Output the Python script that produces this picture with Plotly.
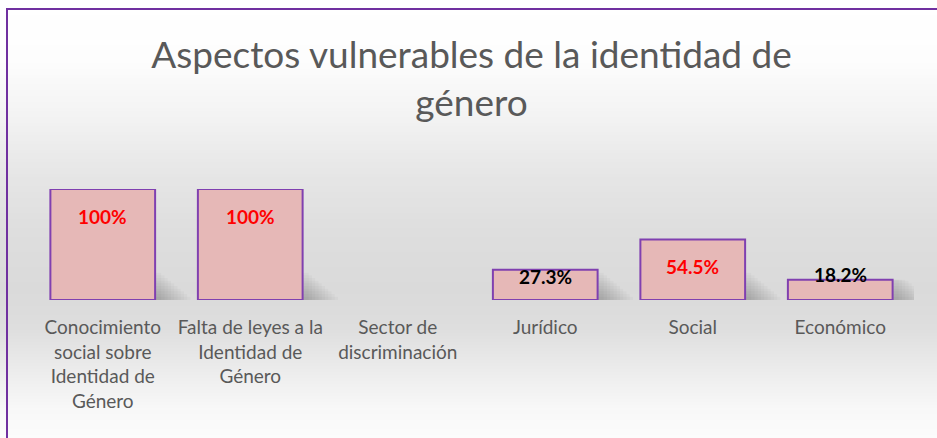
import plotly.graph_objects as go

# ---- data ----
categories = [
    "Conocimiento<br>social sobre<br>Identidad de<br>Género",
    "Falta de leyes a la<br>Identidad de<br>Género",
    "Sector de<br>discriminación",
    "Jurídico",
    "Social",
    "Económico",
]
values = [100, 100, None, 27.3, 54.5, 18.2]
labels = ["100%", "100%", "", "27.3%", "54.5%", "18.2%"]
label_colors = ["#ff0000", "#ff0000", "#000000", "#000000", "#ff0000", "#000000"]
title_text = "Aspectos vulnerables de la identidad de<br>género"

# ---- layout geometry ----
W, H = 937, 438
ML, MR, MT, MB = 29, 23, 189, 138
PW, PH = W - ML - MR, H - MT - MB
BAR_W = 0.71


def px_x(px):
    return (px - ML) / PW


def px_y(py):
    return (H - MB - py) / PH


FONT = "Lato, 'Liberation Sans', sans-serif"
xs = list(range(len(categories)))

fig = go.Figure()

# soft drop shadows (decoration, derived from the values)
n_layers = 10
for k in range(n_layers):
    ext = 0.24 - k * 0.022
    cap = 3 + k * 2.4
    fig.add_trace(go.Bar(
        x=xs,
        y=[None if v is None else min(v, cap) for v in values],
        width=BAR_W / 2 + ext,
        offset=0,
        marker=dict(color="rgba(0,0,0,0.024)", line=dict(width=0)),
        hoverinfo="skip", showlegend=False,
    ))

fig.add_trace(go.Bar(
    x=xs,
    y=values,
    width=BAR_W,
    offset=-BAR_W / 2,
    marker=dict(color="#e6b8b7", line=dict(color="#8040b0", width=2)),
    hoverinfo="skip",
    showlegend=False,
))

# data labels
annotations = []
for i, (v, lab, col) in enumerate(zip(values, labels, label_colors)):
    if v is None:
        continue
    shift = -27 if v >= 50 else (-7 if v >= 25 else 5)
    annotations.append(dict(
        x=i, y=v, xref="x", yref="y", text=f"<b>{lab}</b>", showarrow=False,
        yshift=shift, font=dict(family=FONT, size=19, color=col),
    ))

# background gradient (decoration)
stops = [(0, 255), (60, 253), (110, 244), (175, 230), (230, 222), (290, 218),
         (330, 222), (370, 236), (410, 248), (438, 252)]


def gray_at(py):
    for (a, ga), (b, gb) in zip(stops[:-1], stops[1:]):
        if a <= py <= b:
            t = (py - a) / (b - a)
            return round(ga + (gb - ga) * t)
    return stops[-1][1]


shapes = []
step = 3
for py in range(0, H, step):
    g = gray_at(py + step / 2)
    shapes.append(dict(
        type="rect", xref="paper", yref="paper", layer="below",
        x0=px_x(0), x1=px_x(W), y0=px_y(py + step), y1=px_y(py),
        fillcolor=f"rgb({g},{g},{g})", line=dict(width=0),
    ))
# chart frame
shapes.append(dict(
    type="rect", xref="paper", yref="paper", layer="above",
    x0=px_x(7), x1=px_x(W + 5), y0=px_y(H + 5), y1=px_y(9),
    fillcolor="rgba(0,0,0,0)", line=dict(color="#7030a0", width=2),
))

fig.update_layout(
    width=W, height=H,
    margin=dict(l=ML, r=MR, t=MT, b=MB),
    paper_bgcolor="white",
    plot_bgcolor="rgba(0,0,0,0)",
    title=dict(
        text=title_text, x=0.5, xref="paper", xanchor="center",
        y=1 - 68 / H, yref="container", yanchor="top",
        font=dict(family=FONT, size=37, color="#595959"),
    ),
    xaxis=dict(
        tickmode="array", tickvals=xs, ticktext=categories,
        range=[-0.5, len(categories) - 0.5],
        showgrid=False, zeroline=False, showline=False, ticks="",
        tickfont=dict(family=FONT, size=19, color="#595959"),
        ticklabelstandoff=14,
    ),
    yaxis=dict(range=[0, 100], visible=False),
    shapes=shapes,
    annotations=annotations,
    barmode="overlay",
)

fig.write_html(
    "out.html",
    config={"displayModeBar": False},
    post_script="document.body.style.margin='0';",
)
